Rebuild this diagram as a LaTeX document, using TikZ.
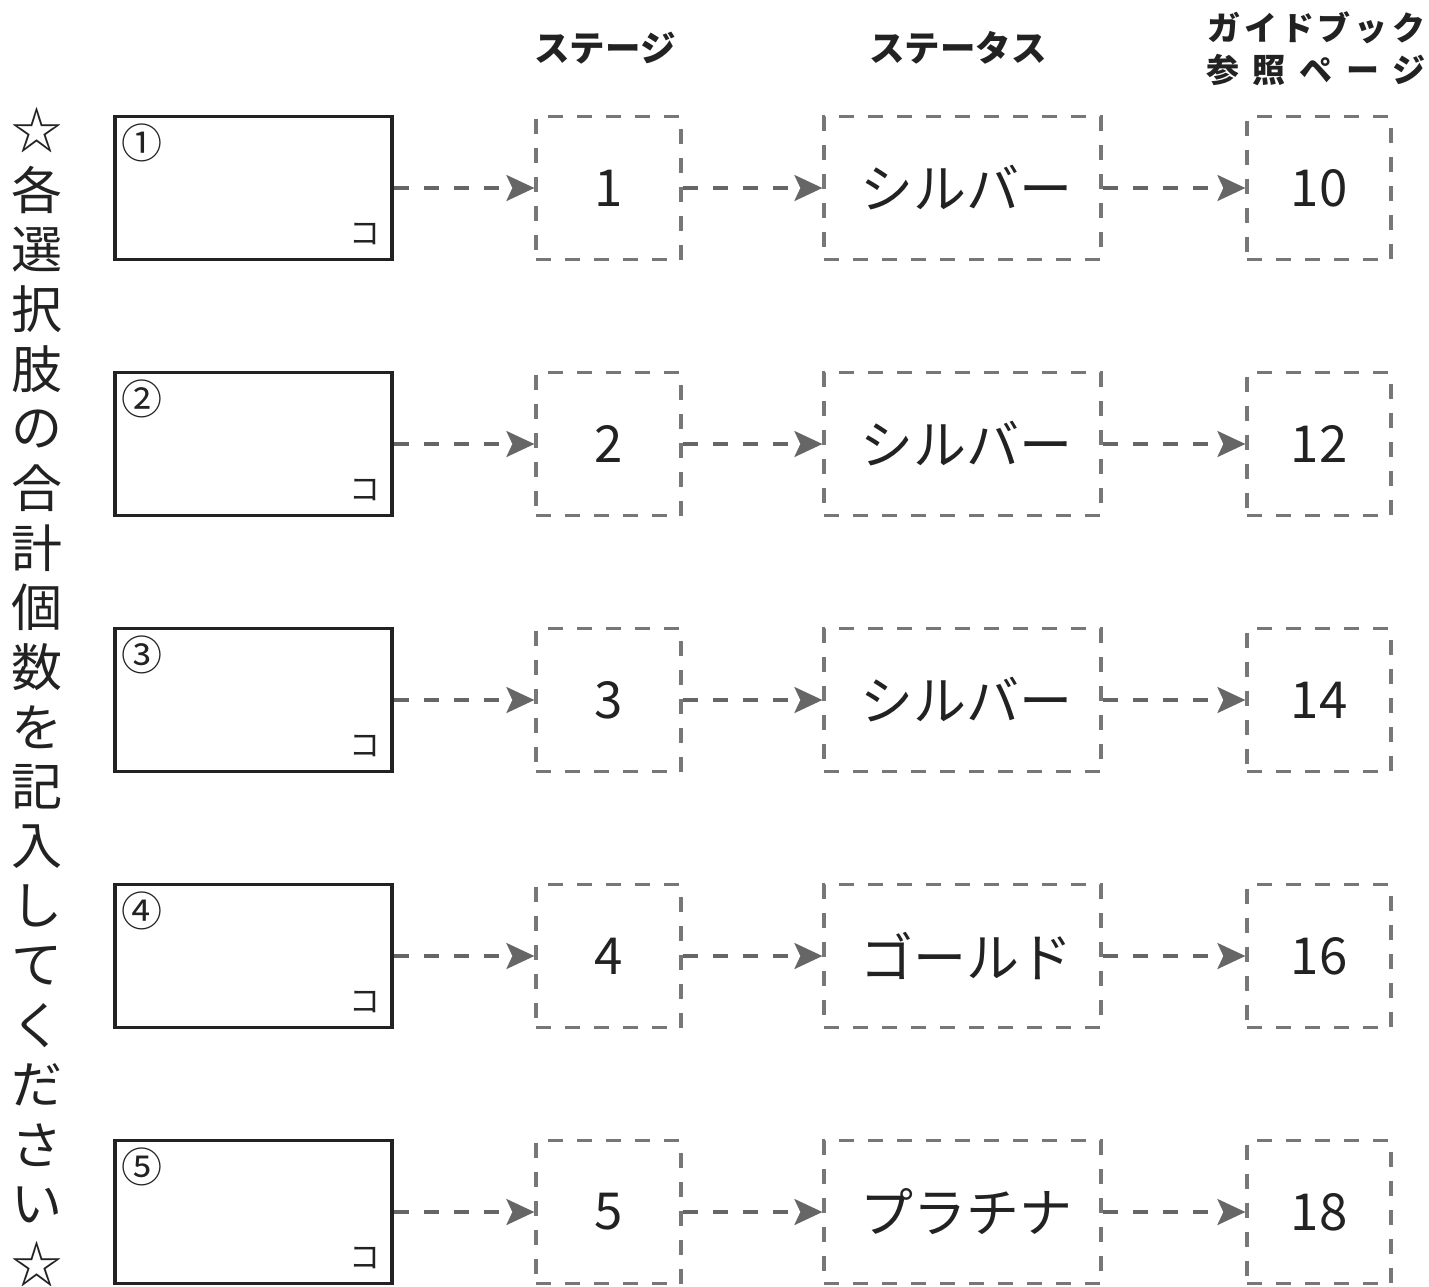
\documentclass[tikz,border=0pt]{standalone}
\usepackage{fontspec}
\newfontfamily\jp{Noto Sans CJK JP}
\usetikzlibrary{arrows.meta}
\definecolor{dgray}{HTML}{777777}
\definecolor{agray}{HTML}{666666}
\definecolor{ink}{HTML}{222222}
\tikzset{
  inbox/.style={draw=ink, line width=3.2pt, minimum width=277pt, minimum height=143pt, inner sep=0pt},
  dbox/.style={draw=dgray, line width=3.2pt, dash pattern=on 15pt off 14pt, inner sep=0pt, minimum height=143pt, text=ink, font=\jp\fontsize{51}{51}\selectfont},
  conn/.style={draw=agray, line width=3.2pt, dash pattern=on 15pt off 15pt, -{Stealth[length=28pt,width=26pt,inset=6pt]}},
  head/.style={font=\jp\bfseries\fontsize{35.5}{40}\selectfont, text=ink, inner sep=0pt},
  head2/.style={font=\jp\bfseries\fontsize{33}{40}\selectfont, text=ink, inner sep=0pt},
  vt/.style={font=\jp\fontsize{51}{51}\selectfont, text=ink, inner sep=0pt},
  circ/.style={font=\jp\fontsize{41}{41}\selectfont, text=ink, inner sep=0pt},
  unit/.style={font=\jp\fontsize{31}{31}\selectfont, text=ink, inner sep=0pt},
}
\begin{document}
\begin{tikzpicture}[x=1pt,y=-1pt]
\useasboundingbox (0,0) rectangle (1429,1286);
% headers
\node[head] (h1) at (605,48) {ステージ};
\node[head] (h2) at (958,48) {ステータス};
\node[head2] (h3) at (1316,28) {\makebox[218pt][s]{ガ\hfill イ\hfill ド\hfill ブ\hfill ッ\hfill ク}};
\node[head2] (h4) at (1316,70) {\makebox[220pt][s]{参\hfill 照\hfill ペ\hfill ー\hfill ジ}};
% vertical text
\foreach \c [count=\i from 0] in {☆,各,選,択,肢,の,合,計,個,数,を,記,入,し,て,く,だ,さ,い,☆}
  \node[vt] (v\i) at (37,{130+\i*59.7}) {\c};
% rows
\foreach \r/\circled/\st/\stat/\pg in {1/①/1/シルバー/10, 2/②/2/シルバー/12, 3/③/3/シルバー/14, 4/④/4/ゴールド/16, 5/⑤/5/プラチナ/18} {
  \pgfmathsetmacro{\yy}{188+(\r-1)*256}
  \node[inbox] (L\r) at (253.5,\yy) {};
  \node[circ] (c\r) at (142,\yy-45) {\circled};
  \node[unit] (u\r) at (365,\yy+46) {コ};
  \node[dbox, minimum width=145pt] (S\r) at (608.5,\yy) {\st};
  \node[dbox, minimum width=277pt, font=\jp\fontsize{53}{53}\selectfont] (T\r) at (962.5,\yy) {\hspace*{8pt}\stat};
  \node[dbox, minimum width=144pt] (P\r) at (1319,\yy) {\pg};
  \draw[conn] (L\r.east) -- (S\r.west);
  \draw[conn] (S\r.east) -- (T\r.west);
  \draw[conn] (T\r.east) -- (P\r.west);
}
\end{tikzpicture}
\end{document}
